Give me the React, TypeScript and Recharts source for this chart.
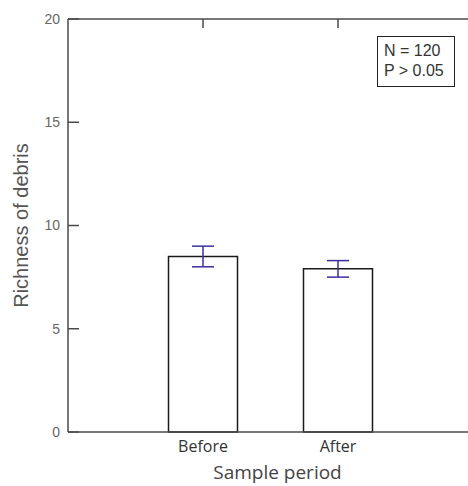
import { Bar, BarChart, ErrorBar, XAxis, YAxis } from "recharts";

const periods = ["Before", "After"];
const positions = [1, 2];
const richness = [8.5, 7.9];
const richnessErr = [0.5, 0.4];
const yTicks = [0, 5, 10, 15, 20];

const data = periods.map((name, i) => ({
  name,
  pos: positions[i],
  value: richness[i],
  err: richnessErr[i],
}));

const axisColor = "#4a4a4a";

export default function App() {
  return (
    <div
      style={{
        position: "absolute",
        left: 0,
        top: 0,
        width: 468,
        height: 486,
        overflow: "hidden",
        background: "#fff",
      }}
    >
      <BarChart
        width={480}
        height={486}
        data={data}
        margin={{ left: 0, right: 6, top: 0, bottom: 0 }}
      >
        <XAxis
          dataKey="pos"
          type="number"
          domain={[0, 3]}
          ticks={positions}
          tickFormatter={(v: number) => periods[positions.indexOf(v)] ?? ""}
          tickLine={false}
          axisLine={{ stroke: axisColor, strokeWidth: 1.5 }}
          tickMargin={3}
          height={54}
          tick={{ fontSize: 16, fill: "#333", fontFamily: "Open Sans" }}
          label={{
            value: "Sample period",
            position: "insideBottom",
            offset: 7,
            dx: 7,
            style: { fontSize: 19, fill: "#444", fontFamily: "Open Sans" },
          }}
        />
        <XAxis
          xAxisId="top"
          orientation="top"
          dataKey="pos"
          type="number"
          domain={[0, 3]}
          ticks={positions}
          tickFormatter={() => ""}
          tickSize={-9}
          height={19}
          axisLine={{ stroke: axisColor, strokeWidth: 1.5 }}
          tickLine={{ stroke: axisColor, strokeWidth: 1.5 }}
        />
        <YAxis
          domain={[0, 20]}
          ticks={yTicks}
          width={68}
          tickSize={-11}
          tickMargin={19}
          axisLine={{ stroke: axisColor, strokeWidth: 1.5 }}
          tickLine={{ stroke: axisColor, strokeWidth: 1.5 }}
          tick={{ fontSize: 14, fill: "#666", fontFamily: "Liberation Sans" }}
          label={{
            value: "Richness of debris",
            angle: -90,
            position: "insideLeft",
            offset: 21,
            style: {
              fontSize: 20,
              fill: "#555",
              fontFamily: "Liberation Sans",
              textAnchor: "middle",
            },
          }}
        />
        <YAxis
          yAxisId="right"
          orientation="right"
          domain={[0, 20]}
          ticks={yTicks}
          width={1}
          tickSize={-9}
          tickFormatter={() => ""}
          axisLine={false}
          tickLine={{ stroke: axisColor, strokeWidth: 1.5 }}
        />
        <Bar
          dataKey="value"
          barSize={69}
          fill="#fff"
          stroke="#1a1a1a"
          strokeWidth={1.5}
          isAnimationActive={false}
        >
          <ErrorBar
            dataKey="err"
            width={11}
            stroke="#3b2f9e"
            strokeWidth={1.5}
            direction="y"
          />
        </Bar>
      </BarChart>
      <div
        style={{
          position: "absolute",
          left: 377,
          top: 36,
          width: 78,
          height: 51,
          border: "1.5px solid #222",
          fontFamily: "Liberation Sans",
          fontSize: 16,
          lineHeight: "20px",
          color: "#333",
          padding: "4px 0 0 6px",
          boxSizing: "border-box",
        }}
      >
        <div>N = 120</div>
        <div>P &gt; 0.05</div>
      </div>
    </div>
  );
}
